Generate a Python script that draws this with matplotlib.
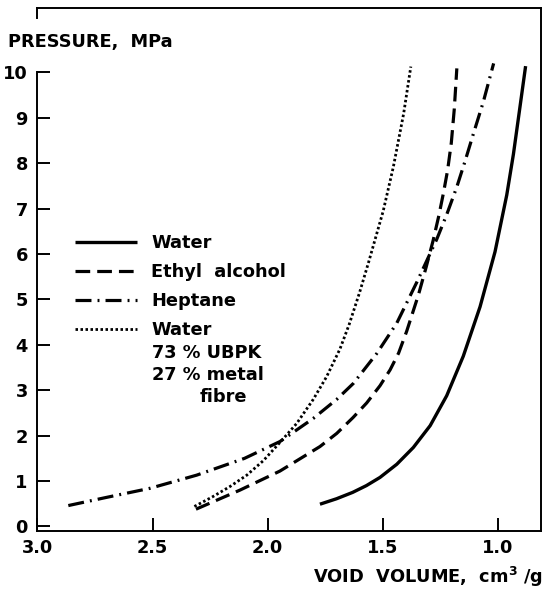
import matplotlib
matplotlib.use("Agg")
import matplotlib.pyplot as plt

# ---- data ----
water_x = [1.772, 1.70, 1.63, 1.57, 1.511, 1.438, 1.366, 1.293, 1.221, 1.149, 1.076, 1.011, 0.96, 0.931, 0.905, 0.878]
water_y = [0.49, 0.61, 0.75, 0.90, 1.08, 1.37, 1.74, 2.22, 2.88, 3.75, 4.84, 6.05, 7.3, 8.2, 9.15, 10.14]

ethyl_x = [2.311, 2.12, 1.946, 1.772, 1.699, 1.628, 1.569, 1.511, 1.467, 1.43, 1.395, 1.344, 1.310,
           1.280, 1.255, 1.235, 1.217, 1.201, 1.188, 1.177]
ethyl_y = [0.38, 0.80, 1.22, 1.76, 2.05, 2.40, 2.72, 3.10, 3.45, 3.82, 4.30, 5.10, 5.72,
           6.30, 6.85, 7.35, 7.85, 8.45, 9.2, 10.09]

heptane_x = [2.866, 2.70, 2.511, 2.308, 2.10, 1.946, 1.801, 1.699, 1.627, 1.525, 1.438, 1.351,
             1.308, 1.264, 1.221, 1.177, 1.141, 1.105, 1.062, 1.017]
heptane_y = [0.46, 0.64, 0.84, 1.13, 1.50, 1.87, 2.38, 2.80, 3.15, 3.81, 4.48, 5.38,
             5.85, 6.33, 6.87, 7.48, 8.05, 8.65, 9.35, 10.2]

ubpk_x = [2.318, 2.24, 2.163, 2.09, 2.018, 1.946, 1.873, 1.801, 1.743, 1.685, 1.645, 1.600,
          1.560, 1.497, 1.453, 1.408, 1.377]
ubpk_y = [0.44, 0.65, 0.88, 1.13, 1.45, 1.85, 2.27, 2.80, 3.30, 3.91, 4.45, 5.15,
          5.83, 6.95, 7.92, 9.1, 10.13]

labels = ["Water", "Ethyl  alcohol", "Heptane", "Water"]
extra_label_lines = ["73 % UBPK", "27 % metal", "fibre"]
x_ticks = [3.0, 2.5, 2.0, 1.5, 1.0]
y_ticks = list(range(0, 11))

FONT = "DejaVu Sans"
FS = 12.8

fig = plt.figure(figsize=(5.45, 5.89), dpi=100)
ax = fig.add_axes([0.0688, 0.0985, 0.9239, 0.8879])

styles = [
    dict(ls="-", lw=2.4),
    dict(ls=(0, (4.6, 2.2)), lw=2.3),
    dict(ls=(0, (5.0, 1.9, 0.6, 1.9)), lw=2.3),
    dict(ls=(0, (0.9, 0.9)), lw=2.0),
]
series = [(water_x, water_y), (ethyl_x, ethyl_y), (heptane_x, heptane_y), (ubpk_x, ubpk_y)]
handles = []
for (xs, ys), st, lab in zip(series, styles, labels):
    (ln,) = ax.plot(xs, ys, color="black", solid_capstyle="butt", dash_capstyle="butt",
                    solid_joinstyle="round", label=lab, **st)
    handles.append(ln)

ax.set_xlim(3.0, 0.811)
ax.set_ylim(-0.1, 11.42)
ax.set_xticks(x_ticks)
ax.set_xticklabels([f"{v:.1f}" for v in x_ticks])
ax.set_yticks(y_ticks)
ax.set_yticklabels([str(v) for v in y_ticks])
ax.tick_params(direction="in", length=9.5, width=1.4, labelsize=FS, colors="black")
ax.tick_params(axis="x", pad=6)
ax.tick_params(axis="y", pad=7)
for lab in ax.get_xticklabels() + ax.get_yticklabels():
    lab.set_fontfamily(FONT)
    lab.set_fontweight("bold")

for s in ax.spines.values():
    s.set_linewidth(1.4)
ax.spines["left"].set_bounds(-0.1, 10)
ax.plot([0, 0], [0.981, 1.0], transform=ax.transAxes, color="black", lw=1.4, clip_on=False,
        solid_capstyle="projecting")

leg = ax.legend(handles=handles, loc="upper left", bbox_to_anchor=(75 / 545, 1 - 234 / 589),
                bbox_transform=fig.transFigure, frameon=False, handlelength=3.5,
                handletextpad=0.8, labelspacing=0.62, borderpad=0, borderaxespad=0,
                prop=dict(family=FONT, weight="bold", size=FS))

# continuation lines of the last legend label
for txt, xp, yp in zip(extra_label_lines, [152, 152, 200], [358, 380, 401.5]):
    fig.text(xp / 545, 1 - yp / 589, txt, ha="left", va="baseline",
             fontfamily=FONT, fontweight="bold", fontsize=FS)

fig.text(8 / 545, 1 - 47 / 589, "PRESSURE,  MPa", ha="left", va="baseline",
         fontfamily=FONT, fontweight="bold", fontsize=FS)
fig.text(543 / 545, 1 - 583 / 589, r"VOID  VOLUME,  cm$^{\mathbf{3}}$ /g", ha="right", va="baseline",
         fontfamily=FONT, fontweight="bold", fontsize=FS)

fig.savefig("out.png", dpi=100)
